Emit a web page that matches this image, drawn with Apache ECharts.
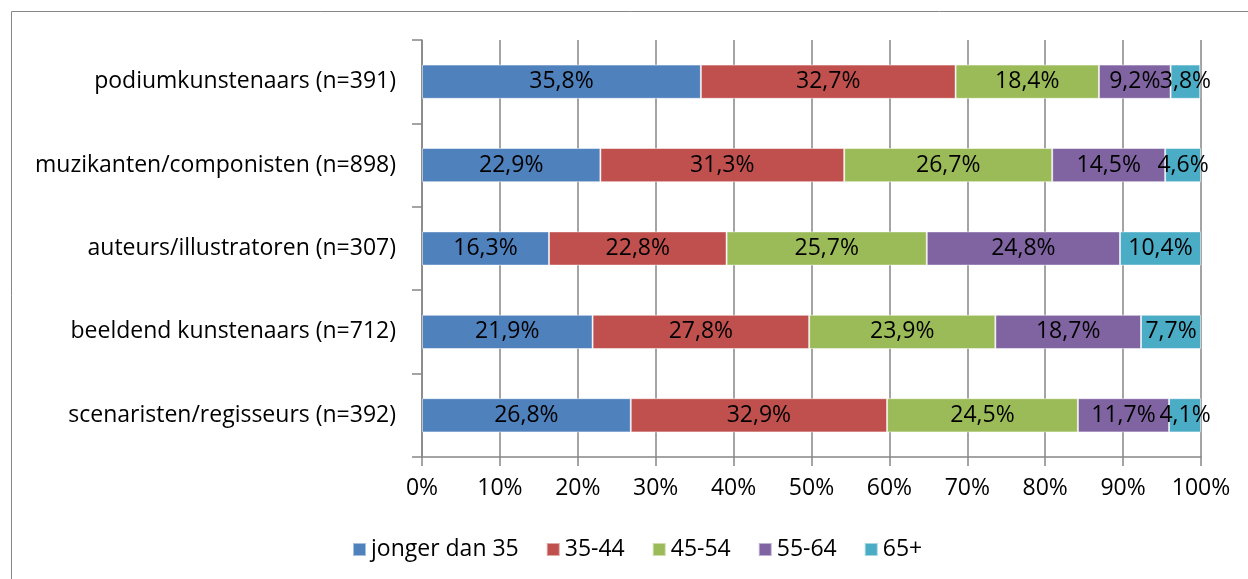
<!DOCTYPE html>
<html>
<head>
<meta charset="utf-8">
<script src="https://cdn.jsdelivr.net/npm/echarts@6/dist/echarts.min.js"></script>
<style>
  html, body { margin: 0; padding: 0; background: #fff; }
  #chart { width: 1248px; height: 579px; }
</style>
</head>
<body>
<div id="chart"></div>
<script>
// categories top to bottom
var categories = [
  'podiumkunstenaars (n=391)',
  'muzikanten/componisten (n=898)',
  'auteurs/illustratoren (n=307)',
  'beeldend kunstenaars (n=712)',
  'scenaristen/regisseurs (n=392)'
];
var seriesNames = ['jonger dan 35', '35-44', '45-54', '55-64', '65+'];
var jonger = [35.8, 22.9, 16.3, 21.9, 26.8];
var age3544 = [32.7, 31.3, 22.8, 27.8, 32.9];
var age4554 = [18.4, 26.7, 25.7, 23.9, 24.5];
var age5564 = [9.2, 14.5, 24.8, 18.7, 11.7];
var age65 = [3.8, 4.6, 10.4, 7.7, 4.1];
var colors = ['#4F81BD', '#C0504D', '#9BBB59', '#8064A2', '#4BACC6'];

var font = '"Open Sans", Lato, sans-serif';
var fs = 23;
var chart = echarts.init(document.getElementById('chart'));

var allData = [jonger, age3544, age4554, age5564, age65];
var series = allData.map(function (d, i) {
  return {
    name: seriesNames[i],
    type: 'bar',
    stack: 'total',
    barCategoryGap: '59%',
    itemStyle: { color: colors[i], borderColor: 'rgba(255,255,255,0.5)', borderWidth: 1 },
    label: {
      show: true,
      position: 'inside',
      color: '#000',
      fontFamily: font,
      fontSize: fs,
      formatter: function (p) { return p.value.toFixed(1).replace('.', ',') + '%'; }
    },
    data: d
  };
});

var option = {
  animation: false,
  color: colors,
  graphic: [{
    type: 'rect',
    shape: { x: 11.5, y: 11.5, width: 1250, height: 600 },
    style: { fill: 'none', stroke: '#868686', lineWidth: 1 },
    silent: true
  }],
  legend: {
    left: 347,
    top: 533,
    itemWidth: 13,
    itemHeight: 13,
    itemGap: 27,
    icon: 'rect',
    textStyle: { fontFamily: font, fontSize: fs, color: '#000' },
    data: seriesNames
  },
  grid: { left: 422, right: 47, top: 40, bottom: 122 },
  xAxis: {
    type: 'value',
    min: 0,
    max: 100,
    interval: 10,
    axisLine: { show: true, lineStyle: { color: '#868686', width: 1.5 } },
    axisTick: { show: true, length: 9, lineStyle: { color: '#868686', width: 1.5 } },
    splitLine: { show: true, lineStyle: { color: '#868686', width: 1.5 } },
    axisLabel: {
      color: '#000', fontFamily: font, fontSize: fs, margin: 20,
      formatter: '{value}%'
    }
  },
  yAxis: {
    type: 'category',
    inverse: true,
    data: categories,
    axisLine: { show: true, lineStyle: { color: '#868686', width: 1.5 } },
    axisTick: { show: true, length: 10, lineStyle: { color: '#868686', width: 1.5 } },
    axisLabel: { color: '#000', fontFamily: font, fontSize: fs, margin: 26 }
  },
  series: series
};

chart.setOption(option);
</script>
</body>
</html>
